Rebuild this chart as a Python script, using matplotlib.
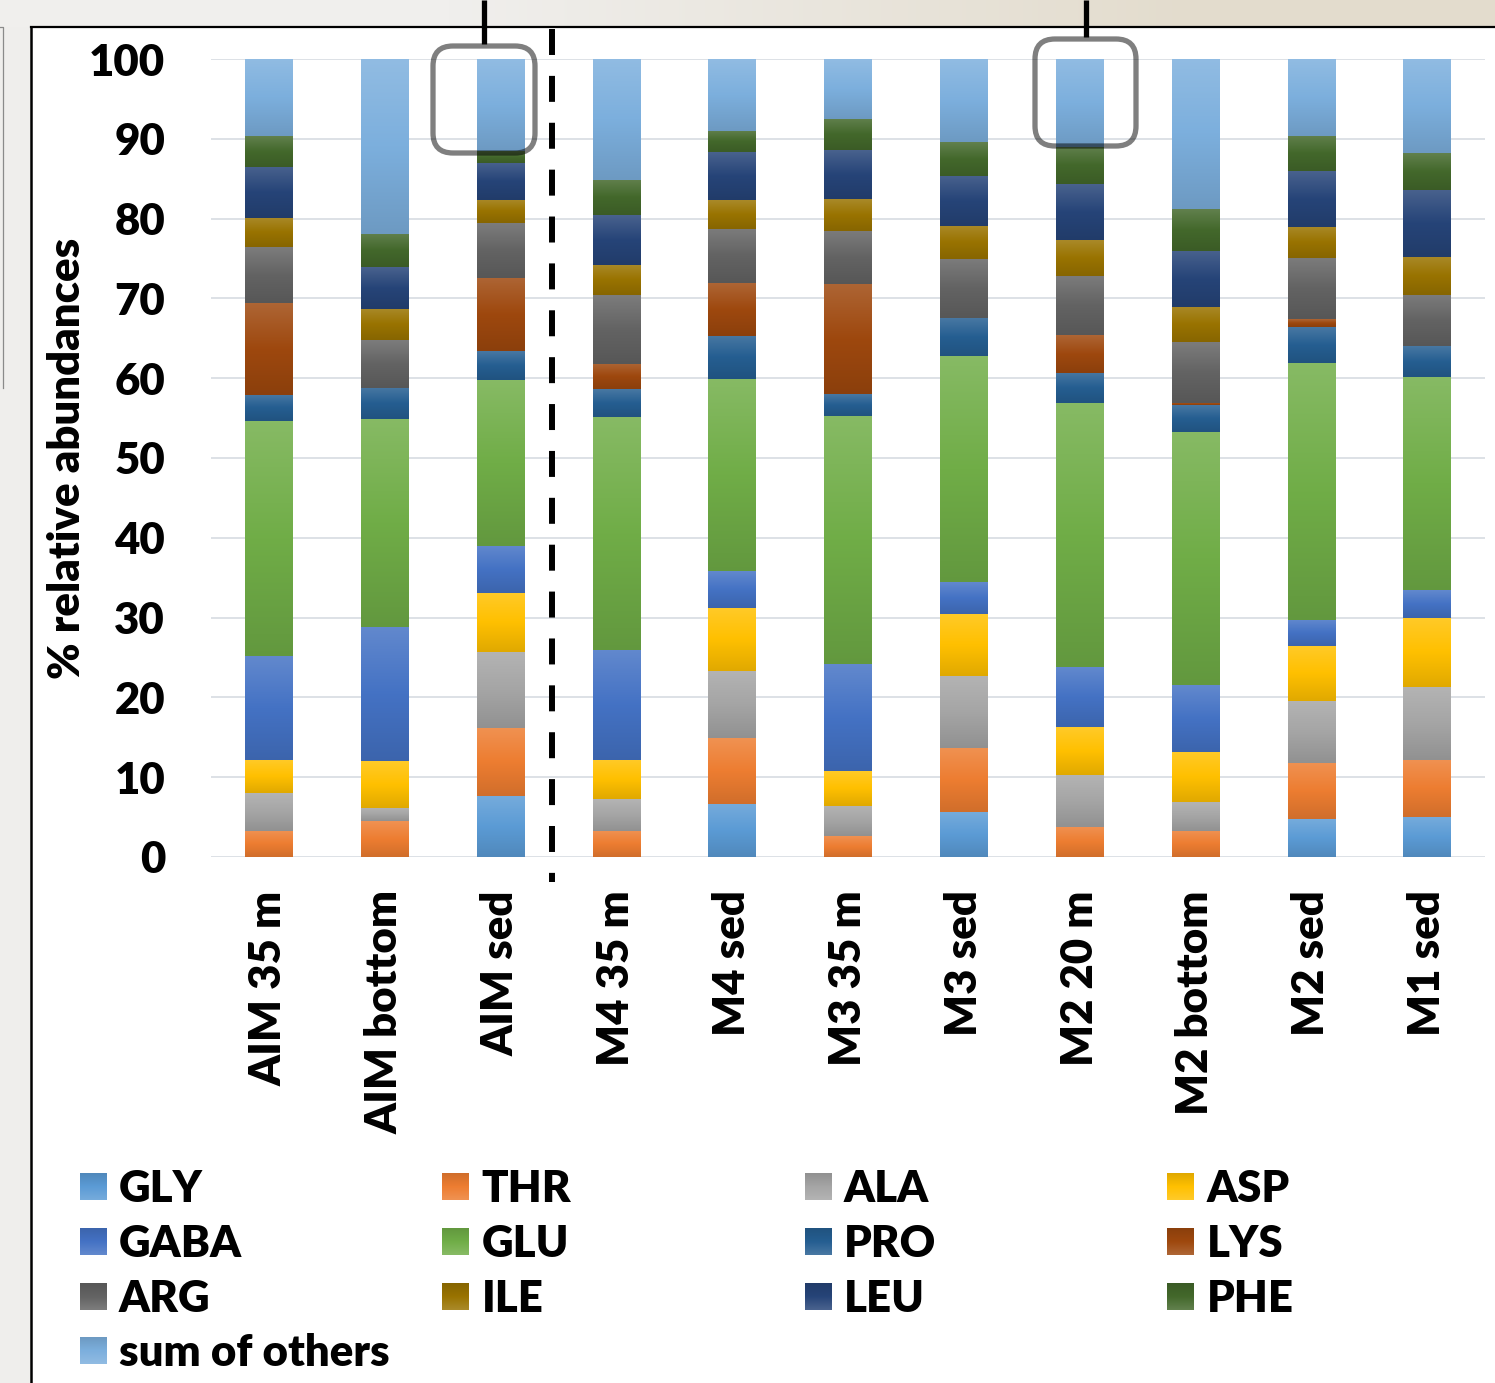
import numpy as np
import matplotlib
matplotlib.use("Agg")
import matplotlib.pyplot as plt
import matplotlib.colors as mcolors
from matplotlib.patches import Rectangle, FancyBboxPatch
from matplotlib.lines import Line2D
from matplotlib.transforms import IdentityTransform

W, H, DPI = 1495, 1383, 100

# ---- data: % relative abundances of amino acids per sample ----
samples = ["AIM 35 m", "AIM bottom", "AIM sed", "M4 35 m", "M4 sed", "M3 35 m",
           "M3 sed", "M2 20 m", "M2 bottom", "M2 sed", "M1 sed"]
gly    = [0.0, 0.0, 7.6, 0.0, 6.7, 0.0, 5.6, 0.0, 0.0, 4.7, 5.0]
thr    = [3.3, 4.5, 8.6, 3.3, 8.2, 2.6, 8.1, 3.8, 3.3, 7.1, 7.2]
ala    = [4.7, 1.7, 9.5, 4.0, 8.4, 3.8, 9.0, 6.5, 3.6, 7.7, 9.1]
asp    = [4.2, 5.8, 7.4, 4.9, 7.9, 4.4, 7.8, 6.0, 6.3, 6.9, 8.7]
gaba   = [13.0, 16.8, 5.9, 13.8, 4.6, 13.4, 4.0, 7.5, 8.3, 3.3, 3.5]
glu    = [29.4, 26.1, 20.8, 29.1, 24.1, 31.1, 28.3, 33.1, 31.8, 32.2, 26.7]
pro    = [3.3, 3.9, 3.6, 3.5, 5.4, 2.7, 4.7, 3.8, 3.3, 4.5, 3.8]
lys    = [11.5, 0.0, 9.2, 3.2, 6.6, 13.8, 0.0, 4.7, 0.3, 1.0, 0.0]
arg    = [7.0, 6.0, 6.8, 8.6, 6.8, 6.7, 7.4, 7.4, 7.6, 7.7, 6.4]
ile    = [3.7, 3.9, 2.9, 3.8, 3.6, 4.0, 4.2, 4.5, 4.4, 3.9, 4.8]
leu    = [6.4, 5.2, 4.7, 6.2, 6.0, 6.1, 6.3, 7.0, 7.1, 7.0, 8.4]
phe    = [3.85, 4.2, 1.5, 4.4, 2.7, 3.9, 4.2, 4.7, 5.2, 4.4, 4.6]
others = [9.65, 21.9, 11.5, 15.2, 9.0, 7.5, 10.4, 11.0, 18.8, 9.6, 11.8]

series_names = ["GLY", "THR", "ALA", "ASP", "GABA", "GLU", "PRO", "LYS",
                "ARG", "ILE", "LEU", "PHE", "sum of others"]
series_values = [gly, thr, ala, asp, gaba, glu, pro, lys, arg, ile, leu, phe, others]
series_colors = ["#5B9BD5", "#ED7D31", "#A5A5A5", "#FFC000", "#4472C4", "#70AD47",
                 "#255E91", "#9E480E", "#636363", "#997300", "#264478", "#43682B",
                 "#7CAFDD"]
y_ticks = list(range(0, 101, 10))

plt.rcParams['font.family'] = ['Lato', 'DejaVu Sans']
WEIGHT = 'heavy'
plt.rcParams['font.weight'] = WEIGHT
FS = 31.5


def shade(base, n=128):
    """Vertical fill ramp: light tint at the top, base in the middle, darker at the bottom."""
    c = np.array(mcolors.to_rgb(base))
    top = c + (1 - c) * 0.16
    bot = c * 0.88
    s = np.linspace(0, 1, n)[:, None]
    upper = top + (c - top) * np.clip(s / 0.5, 0, 1)
    lower = c + (bot - c) * np.clip((s - 0.5) / 0.5, 0, 1)
    return np.where(s < 0.5, upper, lower)


fig = plt.figure(figsize=(W / DPI, H / DPI), dpi=DPI, facecolor='#efeeec')
pix = IdentityTransform()

# top strip of the surrounding page
strip_h = 27
c_left = np.array(mcolors.to_rgb('#f0efed'))
c_right = np.array(mcolors.to_rgb('#e3dccd'))
tt = np.clip((np.linspace(0, 1, W) - 0.3) / 0.5, 0, 1)[:, None]
row = c_left[None, :] * (1 - tt) + c_right[None, :] * tt
fig.figimage(np.repeat(row[None, :, :], strip_h, axis=0), xo=0, yo=H - strip_h, zorder=-20)

# white chart panel with its black frame
panel = Rectangle((31, 0), W - 31, H - 27, transform=pix, facecolor='white',
                  edgecolor='none', zorder=-10)
fig.add_artist(panel)
fig.add_artist(Line2D([31, W], [H - 27, H - 27], transform=pix, color='black', lw=1.6, zorder=-9))
fig.add_artist(Line2D([31, 31], [0, H - 27], transform=pix, color='black', lw=1.8, zorder=-9))
# edge of a neighbouring frame at the far left
fig.add_artist(Line2D([0, 3, 3], [H - 27, H - 27, H - 388], transform=pix,
                      color='#8a8a8a', lw=0.9, zorder=-9))

# ---- stacked bars ----
ax = fig.add_axes([211 / W, 1 - 857 / H, 1274 / W, 798 / H])
ax.set_facecolor('none')
x = np.arange(len(samples))
bw = 0.41
bottom = np.zeros(len(samples))
for vals, col in zip(series_values, series_colors):
    vals = np.asarray(vals, dtype=float)
    bars = ax.bar(x, vals, bottom=bottom, width=bw, color=col, linewidth=0, zorder=2)
    ramp = shade(col)
    for r in bars:
        if r.get_height() <= 0:
            continue
        x0, y0 = r.get_x(), r.get_y()
        ax.imshow(ramp[:, None, :], extent=(x0, x0 + r.get_width(), y0, y0 + r.get_height()),
                  aspect='auto', interpolation='bilinear', zorder=2.5)
    bottom += vals

ax.set_xlim(-0.5, len(samples) - 0.5)
ax.set_ylim(0, 100)
ax.set_yticks(y_ticks)
ax.set_yticklabels([str(v) for v in y_ticks], fontsize=FS, fontweight=WEIGHT)
ax.set_xticks(x)
ax.set_xticklabels(samples, rotation=90, ha='center', va='top', fontsize=FS, fontweight=WEIGHT)
ax.tick_params(axis='y', length=0, pad=33)
ax.tick_params(axis='x', length=0, pad=24)
ax.yaxis.grid(True, color='#dadee4', linewidth=1.3)
ax.set_axisbelow(True)
for sp in ax.spines.values():
    sp.set_visible(False)

fig.text(67 / W, 1 - 458 / H, "% relative abundances", rotation=90, ha='center',
         va='center', fontsize=FS, fontweight=WEIGHT)

# ---- group separator and highlight boxes ----
fig.add_artist(Line2D([551.5, 551.5], [H - 29, H - 882], transform=pix, color='black',
                      lw=4.3, linestyle=(0, (4.35, 3.5)), solid_capstyle='butt',
                      dash_capstyle='butt', zorder=5))
for (bx0, by0, bx1, by1), lx, ly in [((433, 46, 535, 153), 483.5, 44),
                                      ((1035, 39, 1136, 146), 1086, 37)]:
    fig.add_artist(FancyBboxPatch((bx0, H - by1), bx1 - bx0, by1 - by0,
                                  boxstyle="round,pad=0,rounding_size=20", transform=pix,
                                  facecolor='none', edgecolor=(0, 0, 0, 0.5), lw=3.8, zorder=6))
    fig.add_artist(Line2D([lx, lx], [H, H - ly], transform=pix, color='black', lw=3.8,
                          solid_capstyle='butt', zorder=6))

# ---- legend: 4 columns, filled row by row ----
col_x = [80, 442.5, 805, 1167.5]
row_base = [1202, 1257, 1312, 1366]
sq = 27
for i, (name, col) in enumerate(zip(series_names, series_colors)):
    r, c = divmod(i, 4)
    mx, by = col_x[c], row_base[r]
    swatch = np.repeat(shade(col, sq)[:, None, :], sq, axis=1)
    fig.figimage(swatch, xo=int(mx), yo=int(H - (by - 2)), origin='lower', zorder=5)
    fig.text((mx + 39) / W, 1 - by / H, name, ha='left', va='baseline',
             fontsize=FS, fontweight=WEIGHT)

fig.savefig("out.png", dpi=DPI, facecolor=fig.get_facecolor())
